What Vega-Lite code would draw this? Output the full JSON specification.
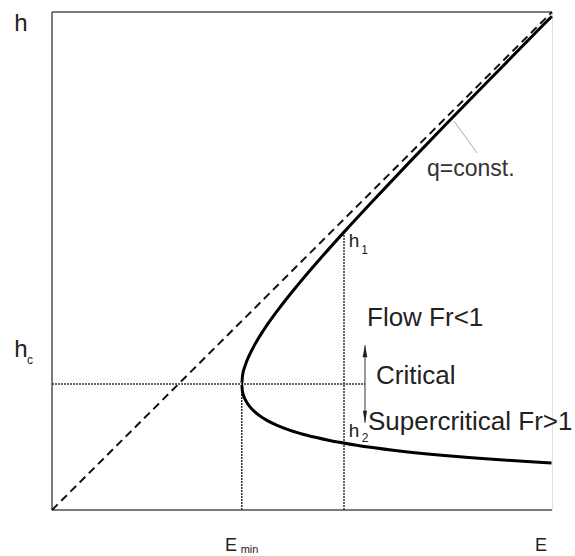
{
  "$schema": "https://vega.github.io/schema/vega-lite/v6.json",
  "width": 500,
  "height": 498,
  "autosize": {"type": "none"},
  "padding": {"left": 52, "top": 12, "right": 23, "bottom": 46},
  "background": "white",
  "config": {"view": {"stroke": "#e2e2e2", "strokeWidth": 1}, "font": "Liberation Sans"},
  "datasets": {
    "frame": [
      {"E": 0, "h": 0, "E2": 0, "h2": 1},
      {"E": 0, "h": 0, "E2": 1, "h2": 0},
      {"E": 0, "h": 1, "E2": 1, "h2": 1}
    ],
    "dotted": [
      {"E": 0, "h": 0.253, "E2": 0.626, "h2": 0.253},
      {"E": 0.3795, "h": 0, "E2": 0.3795, "h2": 0.253},
      {"E": 0.584, "h": 0, "E2": 0.584, "h2": 0.558}
    ],
    "diagonal": [{"E": 0, "h": 0}, {"E": 1, "h": 1}],
    "curve": [
      {"E": 0.999, "h": 0.0946}, {"E": 0.9576, "h": 0.097}, {"E": 0.9097, "h": 0.10},
      {"E": 0.8394, "h": 0.105}, {"E": 0.7792, "h": 0.11}, {"E": 0.6823, "h": 0.12},
      {"E": 0.6091, "h": 0.13}, {"E": 0.5531, "h": 0.14}, {"E": 0.5099, "h": 0.15},
      {"E": 0.4763, "h": 0.16}, {"E": 0.4502, "h": 0.17}, {"E": 0.4299, "h": 0.18},
      {"E": 0.4143, "h": 0.19}, {"E": 0.4024, "h": 0.20}, {"E": 0.3936, "h": 0.21},
      {"E": 0.3873, "h": 0.22}, {"E": 0.3831, "h": 0.23}, {"E": 0.3806, "h": 0.24},
      {"E": 0.3795, "h": 0.253}, {"E": 0.3811, "h": 0.27}, {"E": 0.3863, "h": 0.29},
      {"E": 0.3943, "h": 0.31}, {"E": 0.4044, "h": 0.33}, {"E": 0.4225, "h": 0.36},
      {"E": 0.4506, "h": 0.40}, {"E": 0.4900, "h": 0.45}, {"E": 0.5324, "h": 0.50},
      {"E": 0.5858, "h": 0.56}, {"E": 0.6411, "h": 0.62}, {"E": 0.7165, "h": 0.70},
      {"E": 0.7933, "h": 0.78}, {"E": 0.8709, "h": 0.86}, {"E": 0.9492, "h": 0.94},
      {"E": 0.9983, "h": 0.99}, {"E": 0.9998, "h": 0.9915}
    ],
    "leader": [{"E": 0.804, "h": 0.781, "E2": 0.85, "h2": 0.717}],
    "arrow": [{"E": 0.626, "h": 0.175, "E2": 0.626, "h2": 0.331}],
    "headUp": [{"E": 0.626, "h": 0.319}],
    "headDown": [{"E": 0.626, "h": 0.187}],
    "bigText": [
      {"E": 0.63, "h": 0.3855, "label": "Flow Fr<1"},
      {"E": 0.648, "h": 0.269, "label": "Critical"},
      {"E": 0.632, "h": 0.177, "label": "Supercritical Fr>1"}
    ],
    "axisH": [
      {"E": -0.062, "h": 0.976, "label": "h"},
      {"E": -0.062, "h": 0.321, "label": "h"}
    ],
    "axisE": [
      {"E": 0.358, "h": -0.0723, "label": "E"},
      {"E": 0.978, "h": -0.0723, "label": "E"}
    ],
    "hLabels": [
      {"E": 0.604, "h": 0.540, "label": "h"},
      {"E": 0.604, "h": 0.1586, "label": "h"}
    ],
    "subs": [
      {"E": -0.044, "h": 0.301, "label": "c"},
      {"E": 0.625, "h": 0.522, "label": "1"},
      {"E": 0.626, "h": 0.1446, "label": "2"}
    ],
    "subMin": [{"E": 0.395, "h": -0.0795, "label": "min"}],
    "qText": [{"E": 0.75, "h": 0.685, "label": "q=const."}]
  },
  "encoding": {
    "x": {"field": "E", "type": "quantitative", "scale": {"domain": [0, 1], "nice": false, "zero": false}, "axis": null},
    "y": {"field": "h", "type": "quantitative", "scale": {"domain": [0, 1], "nice": false, "zero": false}, "axis": null}
  },
  "layer": [
    {
      "data": {"name": "frame"},
      "mark": {"type": "rule", "color": "#555555", "strokeWidth": 1.5},
      "encoding": {"x2": {"field": "E2"}, "y2": {"field": "h2"}}
    },
    {
      "data": {"name": "dotted"},
      "mark": {"type": "rule", "color": "#333333", "strokeWidth": 1.5, "strokeDash": [2, 1]},
      "encoding": {"x2": {"field": "E2"}, "y2": {"field": "h2"}}
    },
    {
      "data": {"name": "diagonal"},
      "mark": {"type": "line", "color": "#111111", "strokeWidth": 2, "strokeDash": [8, 5]},
      "encoding": {}
    },
    {
      "data": {"name": "curve"},
      "mark": {"type": "line", "color": "#000000", "strokeWidth": 3, "interpolate": "monotone"},
      "encoding": {"order": {"field": "h", "type": "quantitative"}}
    },
    {
      "data": {"name": "leader"},
      "mark": {"type": "rule", "color": "#aaaaaa", "strokeWidth": 1},
      "encoding": {"x2": {"field": "E2"}, "y2": {"field": "h2"}}
    },
    {
      "data": {"name": "arrow"},
      "mark": {"type": "rule", "color": "#333333", "strokeWidth": 1},
      "encoding": {"x2": {"field": "E2"}, "y2": {"field": "h2"}}
    },
    {
      "data": {"name": "headUp"},
      "mark": {"type": "point", "shape": "M0,-1L0.4,1L-0.4,1Z", "size": 144, "filled": true, "color": "#222222", "opacity": 1},
      "encoding": {}
    },
    {
      "data": {"name": "headDown"},
      "mark": {"type": "point", "shape": "M0,1L0.35,-1L-0.35,-1Z", "size": 144, "filled": true, "color": "#222222", "opacity": 1},
      "encoding": {}
    },
    {
      "data": {"name": "bigText"},
      "mark": {"type": "text", "align": "left", "baseline": "middle", "fontSize": 26, "color": "#222222"},
      "encoding": {"text": {"field": "label"}}
    },
    {
      "data": {"name": "axisH"},
      "mark": {"type": "text", "align": "center", "baseline": "middle", "fontSize": 24, "color": "#222222"},
      "encoding": {"text": {"field": "label"}}
    },
    {
      "data": {"name": "axisE"},
      "mark": {"type": "text", "align": "center", "baseline": "middle", "fontSize": 18, "color": "#222222"},
      "encoding": {"text": {"field": "label"}}
    },
    {
      "data": {"name": "hLabels"},
      "mark": {"type": "text", "align": "center", "baseline": "middle", "fontSize": 19, "color": "#222222"},
      "encoding": {"text": {"field": "label"}}
    },
    {
      "data": {"name": "subs"},
      "mark": {"type": "text", "align": "center", "baseline": "middle", "fontSize": 12, "color": "#222222"},
      "encoding": {"text": {"field": "label"}}
    },
    {
      "data": {"name": "subMin"},
      "mark": {"type": "text", "align": "center", "baseline": "middle", "fontSize": 11, "color": "#222222"},
      "encoding": {"text": {"field": "label"}}
    },
    {
      "data": {"name": "qText"},
      "mark": {"type": "text", "align": "left", "baseline": "middle", "fontSize": 23, "color": "#333333"},
      "encoding": {"text": {"field": "label"}}
    }
  ]
}
